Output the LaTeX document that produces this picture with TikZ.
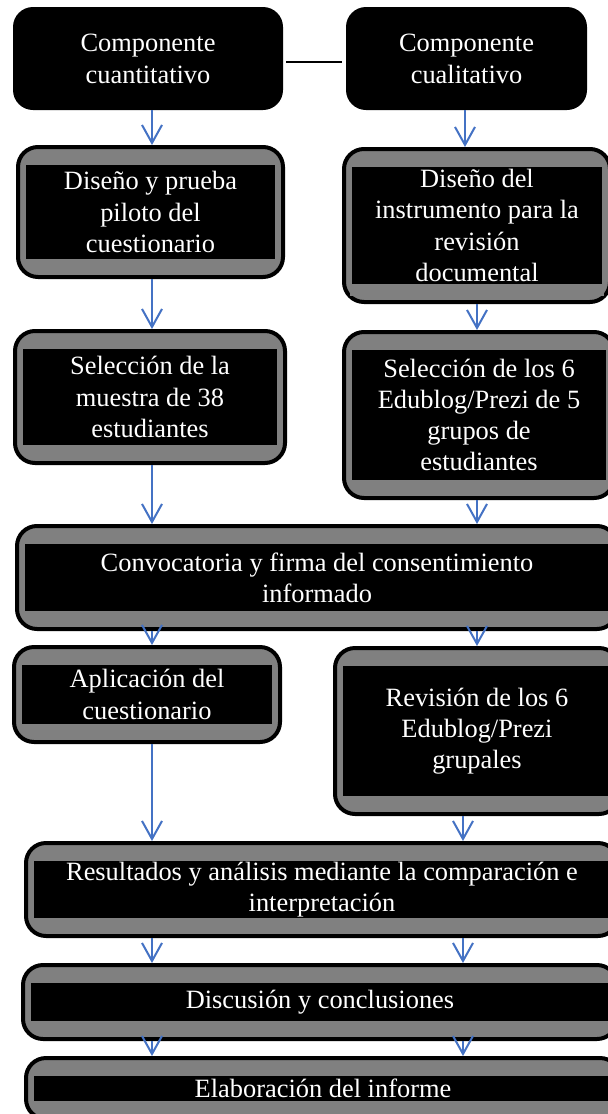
\documentclass[tikz,border=0pt]{standalone}
\usepackage{fontspec}
\setmainfont{Liberation Serif}
\usepackage{xcolor}
\usetikzlibrary{arrows.meta}
\definecolor{boxgray}{RGB}{128,128,128}
\definecolor{arrowblue}{RGB}{68,114,196}
\tikzset{head/.style={rectangle,rounded corners=10pt,fill=black,text=white,align=center,inner sep=0pt,font=\fontsize{13.2pt}{16pt}\selectfont}}
\tikzset{stepbox/.style={rectangle,rounded corners=10pt,draw=black,line width=2pt,fill=boxgray,text=white,align=center,inner sep=0pt,font=\fontsize{13.2pt}{15.6pt}\selectfont,
    path picture={\fill[black,sharp corners] ([xshift=4pt,yshift=-9pt]path picture bounding box.north west) rectangle ([xshift=-4pt,yshift=9pt]path picture bounding box.south east);}}}
\tikzset{flow/.style={arrowblue,line width=1pt,-{Straight Barb[length=9pt,width=10pt]}}}

\begin{document}
\begin{tikzpicture}[x=0.5pt,y=-0.5pt]
    \useasboundingbox (0,0) rectangle (608,1114);
    \clip (0,0) rectangle (608,1114);
    \coordinate (colL) at (152,0);
    \coordinate (colR) at (465,0);
    \coordinate (colS) at (477,0);
    \coordinate (colT) at (463,0);

    \node[head,minimum width=135pt,minimum height=51.5pt] (cuan) at (148,58.5) {Componente\\cuantitativo};
    \node[head,minimum width=120.5pt,minimum height=51.5pt] (cual) at (466.5,58.5) {Componente\\cualitativo};
    \node[stepbox,minimum width=132.5pt,minimum height=65pt] (disCuest) at (150.5,212) {Diseño y prueba\\piloto del\\cuestionario};
    \node[stepbox,minimum width=133pt,minimum height=76.5pt] (disInst) at (477,225.5) {Diseño del\\instrumento para la\\revisión\\documental};
    \fill[boxgray] ([xshift=4pt,yshift=4pt]disInst.south west) rectangle ([xshift=-4pt,yshift=9pt]disInst.south east);
    \node[stepbox,minimum width=135pt,minimum height=66pt] (selMuestra) at (150,397) {Selección de la\\muestra de 38\\estudiantes};
    \node[stepbox,minimum width=135pt,minimum height=83pt] (selEdu) at (479,415) {Selección de los 6\\Edublog/Prezi de 5\\grupos de\\estudiantes};
    \node[stepbox,minimum width=300pt,minimum height=51.5pt] (convoca) at (317,577.5) {Convocatoria y firma del consentimiento\\informado};
    \node[stepbox,minimum width=133pt,minimum height=47.5pt] (aplica) at (147,694.5) {Aplicación del\\cuestionario};
    \node[stepbox,minimum width=142pt,minimum height=83pt] (revisa) at (477,731) {Revisión de los 6\\Edublog/Prezi\\grupales};
    \node[stepbox,minimum width=296pt,minimum height=46.5pt] (result) at (322,889.5) {Resultados y análisis mediante la comparación e\\interpretación};
    \node[stepbox,minimum width=297pt,minimum height=37pt] (discus) at (320,1002) {Discusión y conclusiones};
    \node[stepbox,minimum width=297pt,minimum height=30.5pt] (informe) at (323,1088.5) {Elaboración del informe};

    \draw[line width=1pt,shorten <=1.5pt,shorten >=2pt] ([yshift=-1.75pt]cuan.east) -- ([yshift=-1.75pt]cual.west);
    \draw[flow] (cuan.south -| colL) -- (disCuest.north -| colL);
    \draw[flow] (cual.south -| colR) -- (disInst.north -| colR);
    \draw[flow] (disCuest.south -| colL) -- (selMuestra.north -| colL);
    \draw[flow] (disInst.south -| colS) -- (selEdu.north -| colS);
    \draw[flow] (selMuestra.south -| colL) -- (convoca.north -| colL);
    \draw[flow] (selEdu.south -| colS) -- (convoca.north -| colS);
    \draw[flow] (convoca.south -| colL) -- (aplica.north -| colL);
    \draw[flow] (convoca.south -| colS) -- (revisa.north -| colS);
    \draw[flow] (aplica.south -| colL) -- (result.north -| colL);
    \draw[flow] (revisa.south -| colT) -- (result.north -| colT);
    \draw[flow] (result.south -| colL) -- (discus.north -| colL);
    \draw[flow] (result.south -| colT) -- (discus.north -| colT);
    \draw[flow] (discus.south -| colL) -- (informe.north -| colL);
    \draw[flow] (discus.south -| colT) -- (informe.north -| colT);
\end{tikzpicture}
\end{document}
